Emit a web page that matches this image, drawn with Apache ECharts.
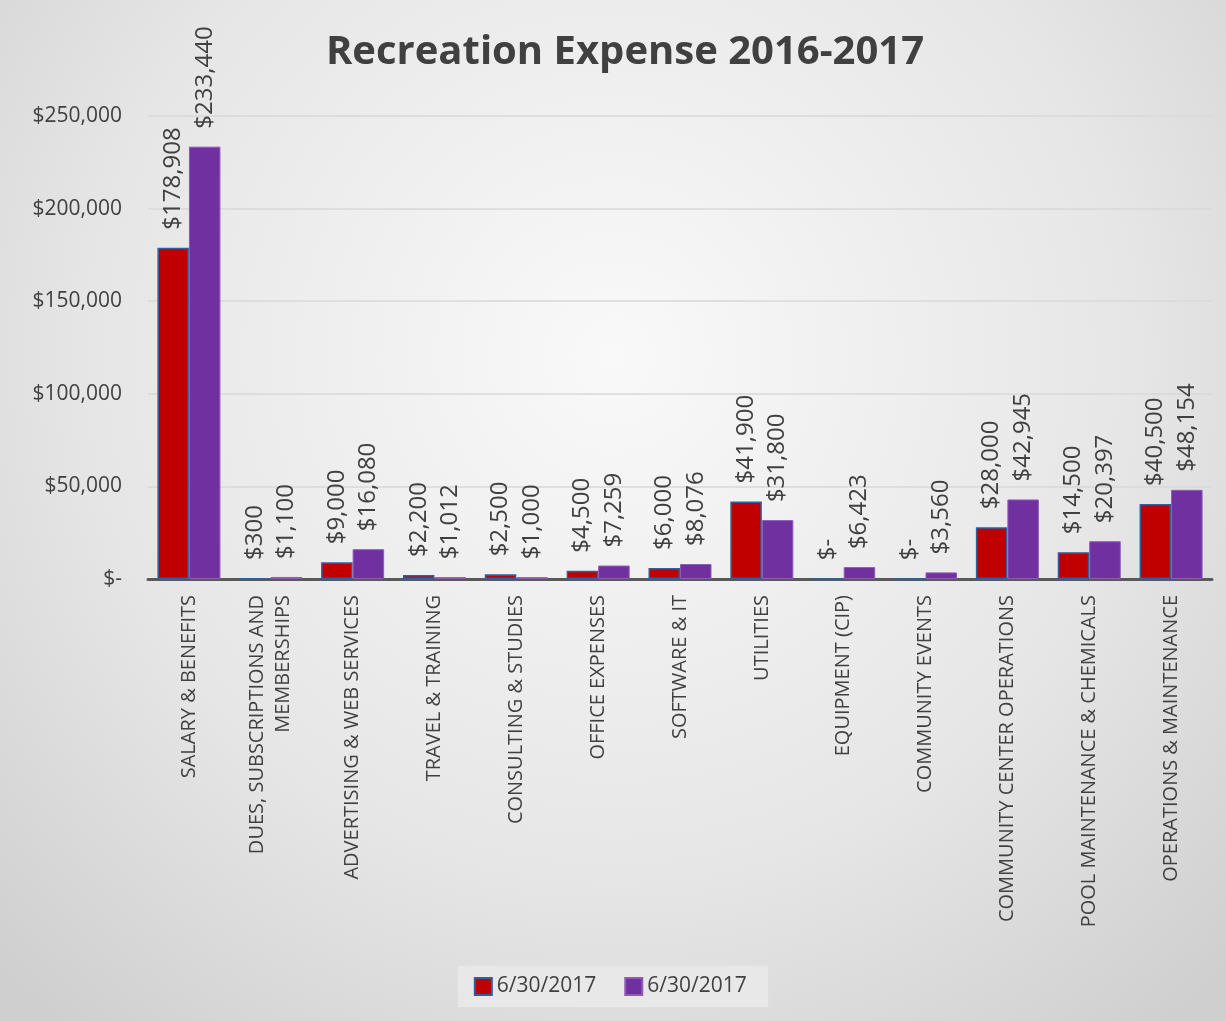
<!DOCTYPE html>
<html><head><meta charset="utf-8">
<script src="https://cdn.jsdelivr.net/npm/echarts@6/dist/echarts.min.js"></script>
<style>html,body{margin:0;padding:0;background:#fff;}#c{width:1226px;height:1021px;}</style>
</head><body><div id="c"></div>
<script>
const categories = ["SALARY & BENEFITS","DUES, SUBSCRIPTIONS AND\nMEMBERSHIPS","ADVERTISING & WEB SERVICES","TRAVEL & TRAINING","CONSULTING & STUDIES","OFFICE EXPENSES","SOFTWARE & IT","UTILITIES","EQUIPMENT (CIP)","COMMUNITY EVENTS","COMMUNITY CENTER OPERATIONS","POOL MAINTENANCE & CHEMICALS","OPERATIONS & MAINTENANCE"];
const series1Name = "6/30/2017";
const series2Name = "6/30/2017";
const series1 = [178908,300,9000,2200,2500,4500,6000,41900,0,0,28000,14500,40500];
const series2 = [233440,1100,16080,1012,1000,7259,8076,31800,6423,3560,42945,20397,48154];
const yTicks = [0,50000,100000,150000,200000,250000];

function fmt(v){ return v===0 ? "$-" : "$" + v.toLocaleString("en-US"); }
const FONT = "Open Sans";
const chart = echarts.init(document.getElementById('c'));
const lbl = {show:true, position:'top', rotate:90, align:'left', verticalAlign:'middle', distance:18, fontSize:24, color:'#404040', fontFamily:FONT, formatter:p=>fmt(p.value)};
chart.setOption({
  backgroundColor:{type:'radial',x:0.5,y:0.35,r:0.85,colorStops:[{offset:0,color:'#f9f9f9'},{offset:0.6,color:'#e6e6e6'},{offset:1,color:'#cfcfcf'}]},
  title:{text:'Recreation Expense 2016-2017',left:620,top:28,textAlign:'center',textStyle:{fontSize:40,fontWeight:'bold',color:'#404040',fontFamily:FONT}},
  legend:{bottom:14,left:'center',icon:'rect',itemWidth:17,itemHeight:17,itemGap:28,padding:[10,16],backgroundColor:'rgba(232,232,232,0.95)',textStyle:{fontSize:21,color:'#404040',fontFamily:FONT},
    data:[{name:series1Name},{name:series2Name+' '}]},
  grid:{left:148,right:14,top:116,bottom:442},
  xAxis:{type:'category',data:categories,axisTick:{show:false},axisLine:{lineStyle:{color:'#595959',width:3}},
    axisLabel:{rotate:90,interval:0,fontSize:20,color:'#404040',fontFamily:FONT,margin:16,lineHeight:26}},
  yAxis:{type:'value',min:0,max:250000,interval:50000,axisLine:{show:false},axisTick:{show:false},
    splitLine:{lineStyle:{color:'#d9d9d9',width:1.5}},
    axisLabel:{fontSize:21,color:'#404040',fontFamily:FONT,margin:26,formatter:v=>fmt(v)}},
  series:[
    {name:series1Name,type:'bar',data:series1,barGap:'0%',barCategoryGap:'23%',itemStyle:{color:'#c00000',borderColor:'#2f5f9e',borderWidth:1.5},label:lbl},
    {name:series2Name+' ',type:'bar',data:series2,itemStyle:{color:'#7030a0',borderColor:'#8e5ab8',borderWidth:1},label:lbl}
  ]
});
</script></body></html>
